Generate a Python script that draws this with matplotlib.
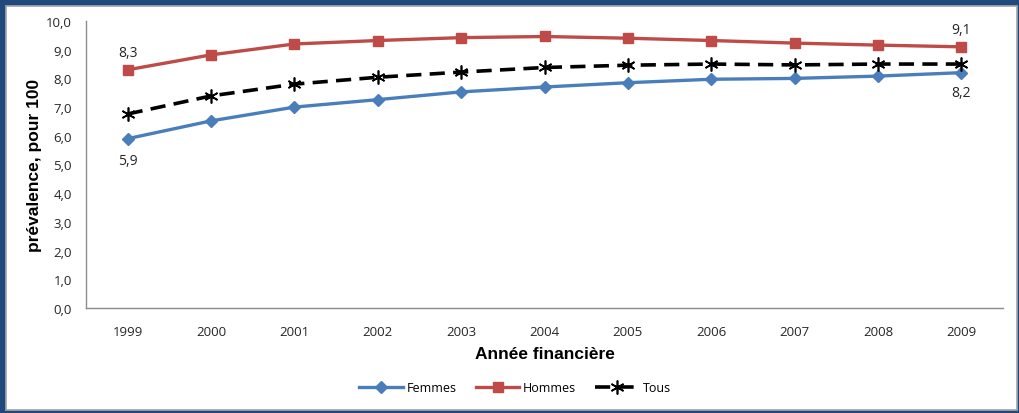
import matplotlib
matplotlib.use('Agg')
import matplotlib.pyplot as plt
from matplotlib.patches import Rectangle

annees = ['1999', '2000', '2001', '2002', '2003', '2004', '2005', '2006', '2007', '2008', '2009']
femmes = [5.9, 6.52, 7.0, 7.26, 7.53, 7.7, 7.85, 7.97, 8.0, 8.08, 8.2]
hommes = [8.3, 8.82, 9.2, 9.32, 9.42, 9.46, 9.4, 9.32, 9.23, 9.16, 9.1]
tous = [6.76, 7.39, 7.8, 8.04, 8.22, 8.38, 8.46, 8.5, 8.47, 8.5, 8.5]

W, H = 1019, 414
fig = plt.figure(figsize=(W / 100, H / 100), dpi=100)
fig.patch.set_facecolor('#1f497d')

# cadre blanc interieur
fig.patches.append(Rectangle((6 / W, 3 / H), 1011 / W, 404 / H, transform=fig.transFigure,
                             facecolor='white', edgecolor='#a6a6a6', linewidth=1.2, zorder=-5))

ax = fig.add_axes([86 / W, (H - 309) / H, (1003 - 86) / W, (309 - 22) / H])
ax.set_facecolor('none')

x = list(range(len(annees)))
ax.plot(x, femmes, color='#4a7ebb', lw=2.4, marker='D', ms=6, label='Femmes', zorder=3)
ax.plot(x, hommes, color='#be4b48', lw=2.4, marker='s', ms=7.5, label='Hommes', zorder=3)
ax.plot(x, tous, color='black', lw=2.6, ls=(0, (4.2, 2.3)), marker=(6, 2, 0), ms=10,
        mew=1.2, label='Tous', zorder=4)

# etiquettes de valeurs aux extremites
lab = dict(fontsize=10, family='Open Sans', color='#262626', ha='center')
def fmt(v):
    return ('%.1f' % v).replace('.', ',')
ax.annotate(fmt(hommes[0]), (0, hommes[0]), xytext=(0, 7), textcoords='offset points', va='bottom', **lab)
ax.annotate(fmt(femmes[0]), (0, femmes[0]), xytext=(0, -10), textcoords='offset points', va='top', **lab)
ax.annotate(fmt(hommes[-1]), (10, hommes[-1]), xytext=(0, 7), textcoords='offset points', va='bottom', **lab)
ax.annotate(fmt(femmes[-1]), (10, femmes[-1]), xytext=(0, -9), textcoords='offset points', va='top', **lab)

ax.set_xlim(-0.5, 10.5)
ax.set_ylim(0, 10)
ax.set_yticks([i for i in range(11)])
ax.set_yticklabels(['%d,0' % i for i in range(11)], family='Open Sans', fontsize=9.5, color='#262626')
ax.set_xticks(x)
ax.set_xticklabels(annees, family='Open Sans', fontsize=9.5, color='#262626')
ax.tick_params(length=0, pad=10)
ax.tick_params(axis='x', pad=12)

for s in ['top', 'right']:
    ax.spines[s].set_visible(False)
for s in ['left', 'bottom']:
    ax.spines[s].set_color('#8c8c8c')
    ax.spines[s].set_linewidth(1.0)

ax.set_ylabel('prévalence, pour 100', family='Liberation Sans', fontweight='bold', fontsize=12.5, labelpad=3)
ax.set_xlabel('Année financière', family='Liberation Sans', fontweight='bold', fontsize=12.5, labelpad=6)

leg = fig.legend(loc='center', bbox_to_anchor=(515 / W, (H - 389) / H), ncol=3, frameon=False,
                 prop={'family': 'Open Sans', 'size': 9}, handlelength=3.5, columnspacing=1.5,
                 handletextpad=0.3)

fig.savefig('out.png', dpi=100, facecolor=fig.get_facecolor())
